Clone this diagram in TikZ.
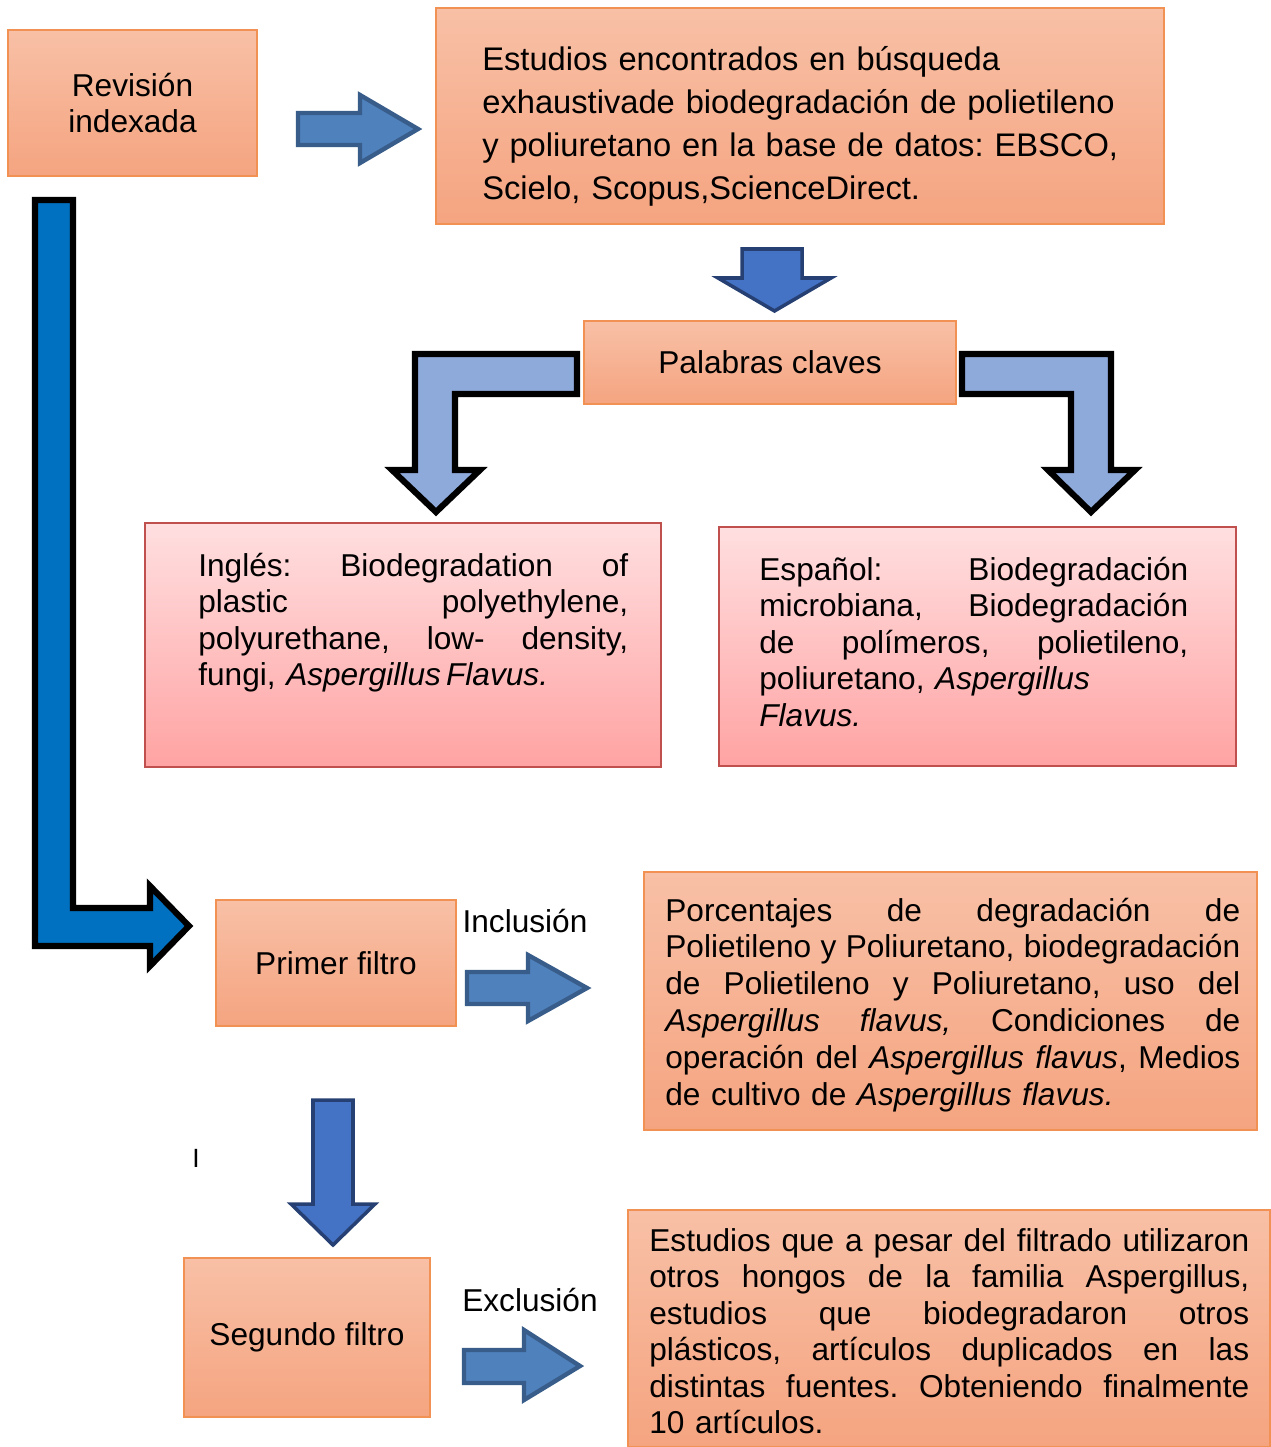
\documentclass[tikz,border=0pt]{standalone}
\usepackage{fontspec}
\setmainfont{Liberation Sans}
\usepackage{tikz}
\usetikzlibrary{positioning}
\definecolor{BoxTop}{RGB}{248,192,166}
\definecolor{BoxBottom}{RGB}{245,164,128}
\definecolor{BoxEdge}{RGB}{241,146,84}
\definecolor{PinkTop}{RGB}{255,223,224}
\definecolor{PinkBottom}{RGB}{255,163,163}
\definecolor{PinkEdge}{RGB}{192,80,77}
\definecolor{ArrowMid}{RGB}{79,129,189}
\definecolor{ArrowMidEdge}{RGB}{56,93,138}
\definecolor{ArrowDark}{RGB}{68,114,196}
\definecolor{ArrowDarkEdge}{RGB}{38,64,115}
\definecolor{ArrowLight}{RGB}{142,170,219}
\definecolor{ArrowDeep}{RGB}{0,112,192}
% linea justificada de ancho fijo
\newcommand{\jl}[2]{\makebox[#1][s]{\spaceskip=0.278em plus 1fil\relax #2}}
\frenchspacing

\begin{document}
\begin{tikzpicture}[x=0.02cm,y=-0.02cm,
  every node/.style={font=\fontsize{18}{20.8}\selectfont},
  obox/.style={draw=BoxEdge,line width=0.8pt,top color=BoxTop,bottom color=BoxBottom,inner sep=0pt,align=center},
  pbox/.style={draw=PinkEdge,line width=1.2pt,top color=PinkTop,bottom color=PinkBottom,inner sep=0pt},
  txt/.style={inner sep=0pt,align=left,anchor=base west},
  rarrow/.style={fill=ArrowMid,draw=ArrowMidEdge,line width=2.5pt},
  darrow/.style={fill=ArrowDark,draw=ArrowDarkEdge,line width=2pt},
  barrow/.style={draw=black,line width=3.5pt}]
\useasboundingbox (0,0) rectangle (1271,1447);

% cajas
\node[obox,minimum width=4.98cm,minimum height=2.92cm] (rev) at (132.5,103) {Revisión\\indexada};
\node[obox,minimum width=14.56cm,minimum height=4.32cm] (est) at (800,116) {};
\node[txt,text width=14cm,font=\fontsize{18.6}{24.5}\selectfont] (esttxt) at (482,70) {Estudios encontrados en búsqueda\\exhaustivade biodegradación de polietileno\\y poliuretano en la base de datos: EBSCO,\\Scielo, Scopus,ScienceDirect.};
\node[obox,minimum width=7.44cm,minimum height=1.66cm] (pal) at (770,362.5) {Palabras claves};

\node[pbox,minimum width=10.32cm,minimum height=4.88cm] (ing) at (403,645) {};
\node[txt,text width=8.6cm] (ingtxt) at (198,576) {\jl{8.6cm}{Inglés: Biodegradation of}\\\jl{8.6cm}{plastic polyethylene,}\\\jl{8.6cm}{polyurethane, low- density,}\\fungi, \textit{Aspergillus\,Flavus.}};
\node[pbox,minimum width=10.34cm,minimum height=4.78cm] (esp) at (977.5,646.5) {};
\node[txt,text width=8.58cm] (esptxt) at (759,580) {\jl{8.58cm}{Español: Biodegradación}\\\jl{8.58cm}{microbiana, Biodegradación}\\\jl{8.58cm}{de polímeros, polietileno,}\\poliuretano, \textit{Aspergillus}\\\textit{Flavus.}};

\node[obox,minimum width=4.8cm,minimum height=2.52cm] (prim) at (336,963) {Primer filtro};
\node[obox,minimum width=12.26cm,minimum height=5.16cm] (por) at (950.5,1001) {};
\node[txt,text width=11.5cm,font=\fontsize{18}{21}\selectfont] (portxt) at (665,921) {\jl{11.5cm}{Porcentajes de degradación de}\\\jl{11.5cm}{Polietileno y Poliuretano, biodegradación}\\\jl{11.5cm}{de Polietileno y Poliuretano, uso del}\\\jl{11.5cm}{\textit{Aspergillus flavus,} Condiciones de}\\\jl{11.5cm}{operación del \textit{Aspergillus flavus}, Medios}\\de cultivo de \textit{Aspergillus flavus.}};

\node[obox,minimum width=4.92cm,minimum height=3.18cm] (seg) at (307,1337.5) {Segundo filtro};
\node[obox,minimum width=12.84cm,minimum height=4.74cm] (exc) at (949,1328.5) {};
\node[txt,text width=12cm] (exctxt) at (649,1251) {\jl{12cm}{Estudios que a pesar del filtrado utilizaron}\\\jl{12cm}{otros hongos de la familia Aspergillus,}\\\jl{12cm}{estudios que biodegradaron otros}\\\jl{12cm}{plásticos, artículos duplicados en las}\\\jl{12cm}{distintas fuentes. Obteniendo finalmente}\\10 artículos.};

% etiquetas
\node (inc) at (525,921) {Inclusión};
\node (exl) at (530,1300) {Exclusión};
\node[font=\fontsize{15}{15}\selectfont] (stray) at (196,1158) {I};

% flechas
\draw[rarrow] (298,113) -- (360,113) -- (360,95) -- (418,129) -- (360,163) -- (360,145) -- (298,145) -- cycle;
\draw[darrow] (742,249) -- (802,249) -- (802,278) -- (831,278) -- (774.5,311) -- (718,278) -- (742,278) -- cycle;
\draw[barrow,fill=ArrowLight] (577,354) -- (415,354) -- (415,470) -- (392,470) -- (436,512) -- (480,470) -- (455,470) -- (455,394) -- (577,394) -- cycle;
\draw[barrow,fill=ArrowLight] (962,354) -- (1111,354) -- (1111,470) -- (1135,470) -- (1091,512) -- (1048,470) -- (1071,470) -- (1071,394) -- (962,394) -- cycle;
\draw[barrow,fill=ArrowDeep] (35,200) -- (73,200) -- (73,908) -- (150,908) -- (150,886) -- (189,926) -- (150,966) -- (150,946) -- (35,946) -- cycle;
\draw[rarrow] (467,972) -- (528,972) -- (528,955) -- (587,988) -- (528,1021) -- (528,1004) -- (467,1004) -- cycle;
\draw[darrow] (313,1100) -- (353,1100) -- (353,1204) -- (375,1204) -- (333,1245) -- (291,1204) -- (313,1204) -- cycle;
\draw[rarrow] (464,1350) -- (524,1350) -- (524,1330) -- (580,1366) -- (524,1400) -- (524,1383) -- (464,1383) -- cycle;
\end{tikzpicture}
\end{document}
